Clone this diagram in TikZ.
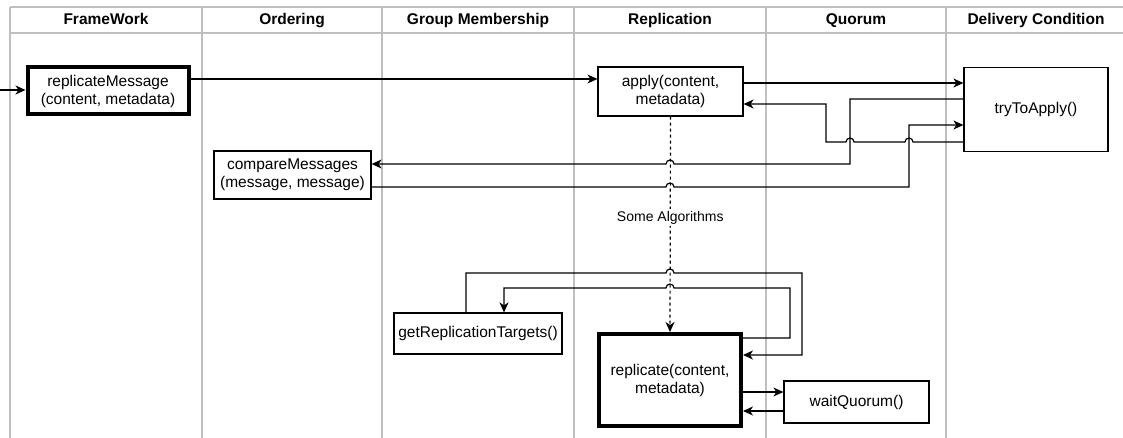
\documentclass[tikz,border=0pt]{standalone}
\usepackage{fontspec}
\setmainfont{Liberation Sans}
\usetikzlibrary{arrows.meta,calc}
\definecolor{lane}{HTML}{BFBFBF}
\tikzset{
  lanesep/.style={draw=lane, line width=1.2pt},
  hdr/.style={font=\fontsize{15.5}{18}\selectfont\bfseries, anchor=base},
  box/.style={draw=black, line width=1.2pt, fill=white, align=center, inner sep=2pt,
              font=\fontsize{15.5}{18}\selectfont},
  thickbox/.style={box, line width=4pt},
  conn/.style={draw=black, line width=1.2pt, -{Stealth[length=10pt,width=9pt,inset=3pt]}},
  lbl/.style={fill=white, inner sep=2pt, font=\fontsize{14}{16}\selectfont},
}
\begin{document}
\begin{tikzpicture}[x=1pt, y=-1pt]
\useasboundingbox (0,0) rectangle (1123,438);

% swimlane frame
\draw[lanesep] (10,7) -- (1123,7);
\draw[lanesep] (10,33) -- (1123,33);
\foreach \sx in {10,202,382,574,766,946}
  \draw[lanesep] (\sx,7) -- (\sx,438);

% lane titles
\node[hdr] (hFrame) at (106,25) {FrameWork};
\node[hdr] (hOrder) at (292,25) {Ordering};
\node[hdr] (hGroup) at (478,25) {Group Membership};
\node[hdr] (hRepl)  at (670,25) {Replication};
\node[hdr] (hQuor)  at (856,25) {Quorum};
\node[hdr] (hDeliv) at (1036,25) {Delivery Condition};

% operations
\node[thickbox, minimum width=161pt, minimum height=47pt] (rm) at (108,91)
  {replicateMessage\\(content, metadata)};
\node[box, minimum width=157pt, minimum height=48pt] (cm) at (292.5,175)
  {compareMessages\\(message, message)};
\node[box, minimum width=145pt, minimum height=49pt] (ap) at (670.5,91.5)
  {apply(content,\\metadata)};
\node[box, minimum width=144pt, minimum height=84pt] (tta) at (1036,109.5)
  {tryToApply()};
\node[box, minimum width=168pt, minimum height=41pt] (grt) at (478,333.5)
  {getReplicationTargets()};
\node[thickbox, minimum width=142pt, minimum height=92pt] (rep) at (670,380)
  {replicate(content,\\metadata)};
\node[box, minimum width=145pt, minimum height=42pt] (wq) at (856.5,402)
  {waitQuorum()};

\coordinate (entry) at (0,90);

% dashed hand-over from apply to replicate
\draw[conn, dashed] (ap.south) -- node[lbl, pos=0.47] (algo) {Some Algorithms} (rep.north);

% calls
\draw[conn] (entry) -- (rm.west |- 0,90);
\draw[conn] (rm.east |- 0,79) -- (ap.west |- 0,79);
\draw[conn] (ap.east |- 0,83) -- (tta.west |- 0,83);
\draw[conn] (tta.west |- 0,99) -| (850,164) -- (674,164)
  arc[start angle=0, end angle=180, radius=4pt] -- (cm.east |- 0,164);
\draw[conn] (cm.east |- 0,187) -- (666,187)
  arc[start angle=180, end angle=0, radius=4pt] -- (909,187) |- (tta.west |- 0,125);
\draw[conn] (tta.west |- 0,142) -- (913,142)
  arc[start angle=0, end angle=180, radius=4pt] -- (854,142)
  arc[start angle=0, end angle=180, radius=4pt] -- (826,142) |- (ap.east |- 0,104);
\draw[conn] (grt.north -| 466,0) |- (666,273)
  arc[start angle=180, end angle=0, radius=4pt] -- (802,273) |- (rep.east |- 0,355);
\draw[conn] (rep.east |- 0,338) -| (790,288) -- (674,288)
  arc[start angle=0, end angle=180, radius=4pt] -- (504,288) -- (grt.north -| 504,0);
\draw[conn] (rep.east |- 0,392) -- (wq.west |- 0,392);
\draw[conn] (wq.west |- 0,411) -- (rep.east |- 0,411);
\end{tikzpicture}
\end{document}
